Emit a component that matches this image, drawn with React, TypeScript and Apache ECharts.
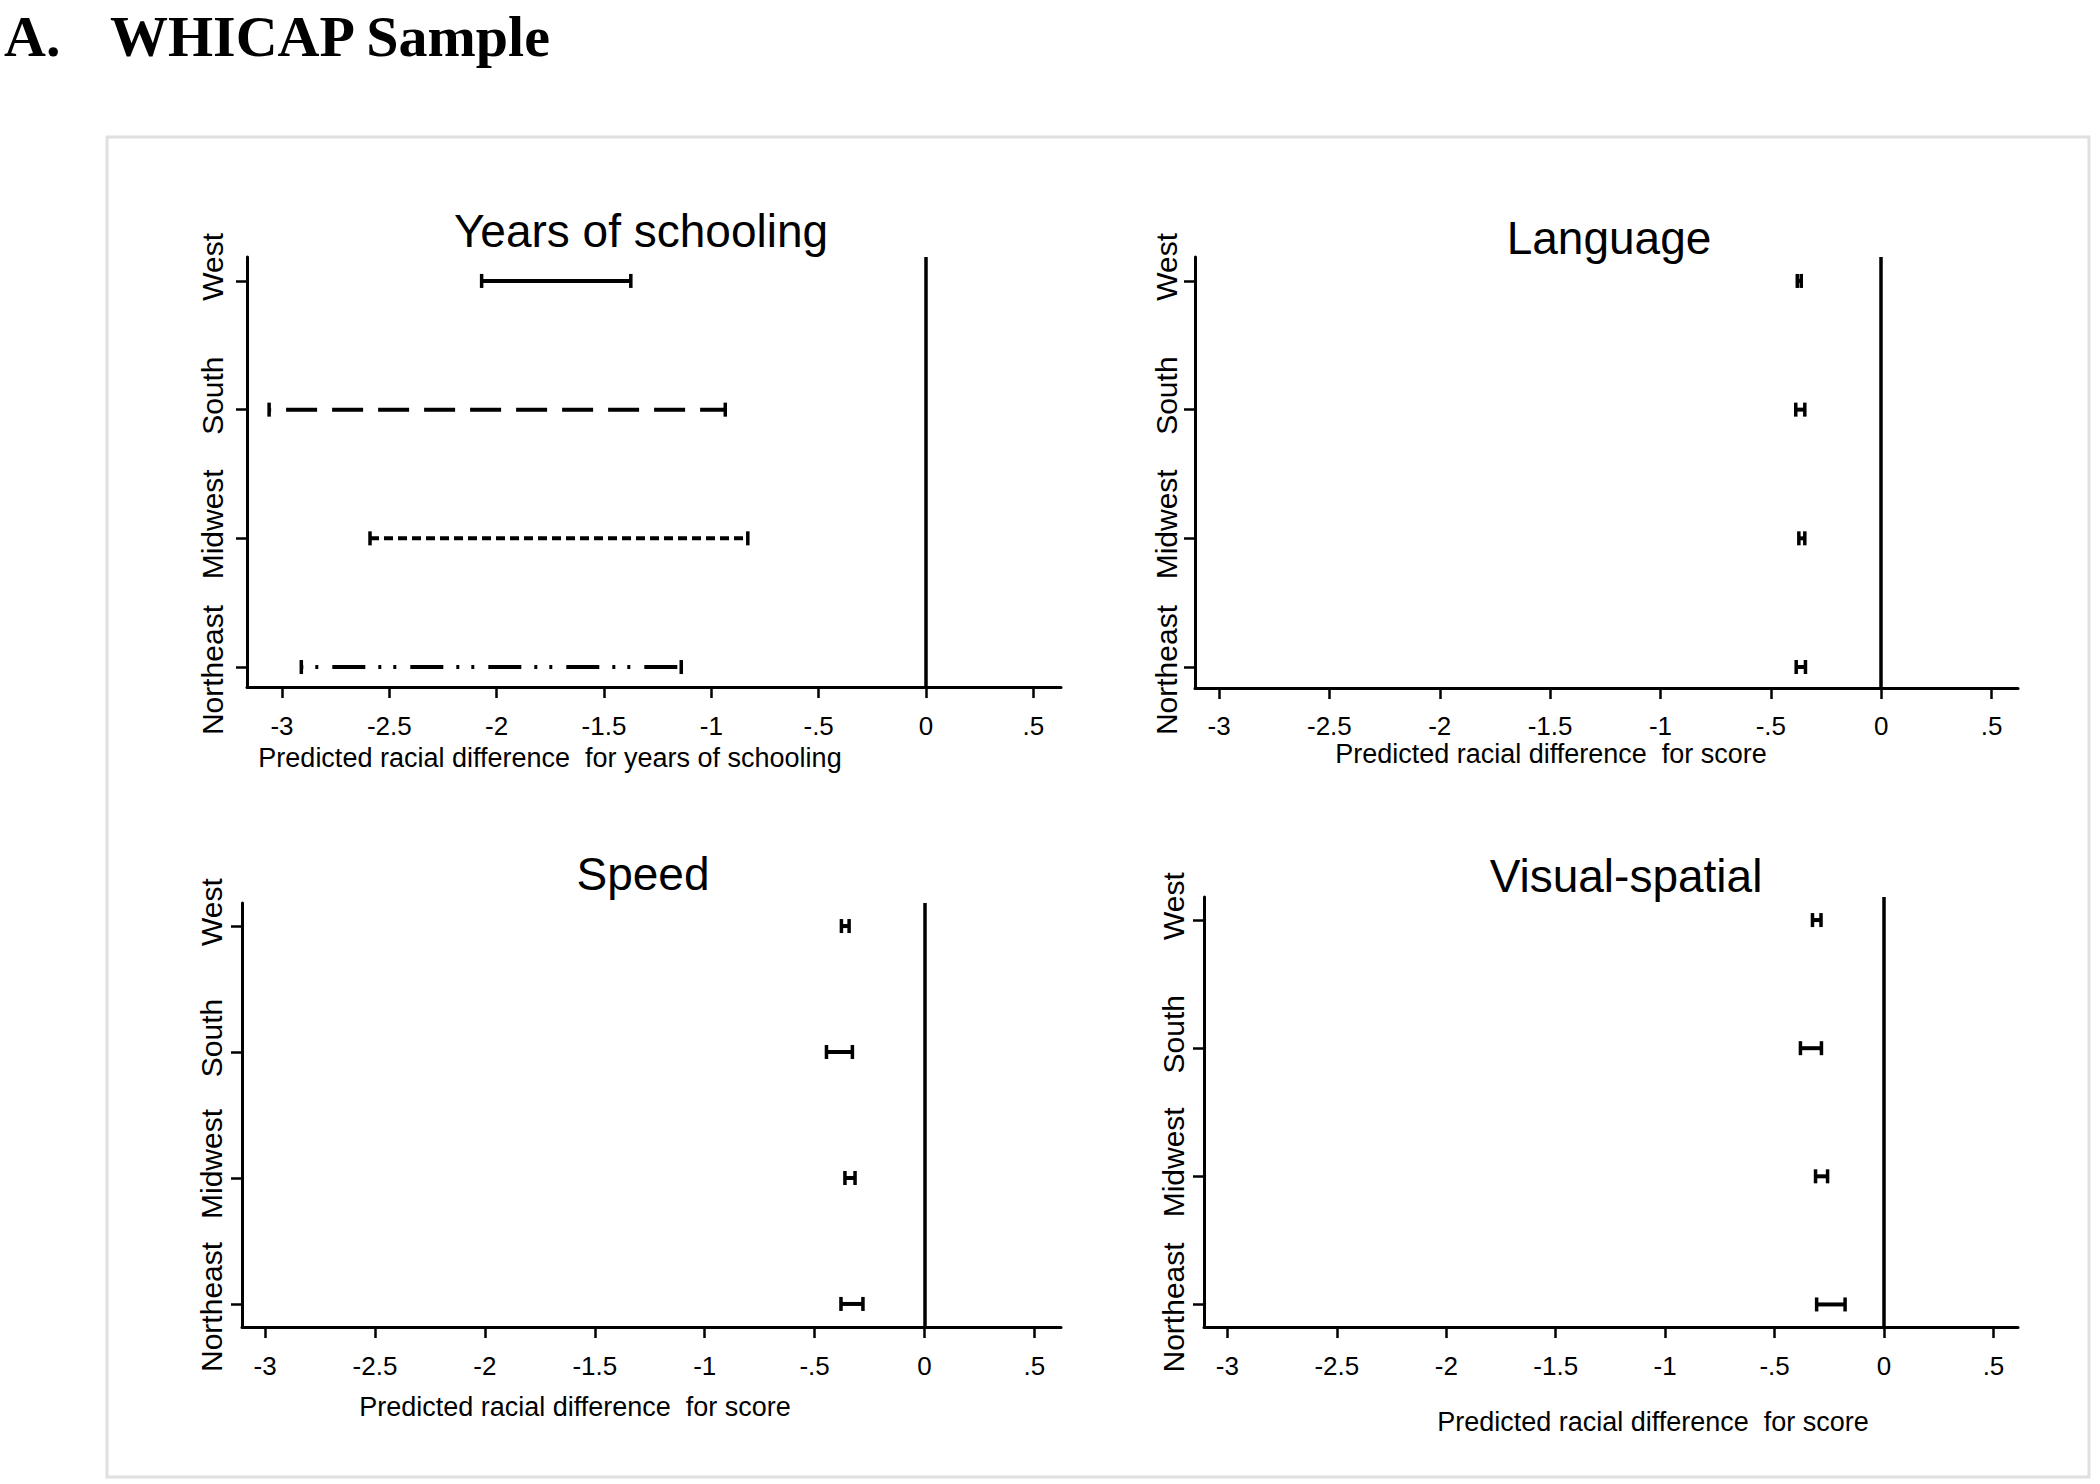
import React, { useEffect, useRef } from "react";
import * as echarts from "echarts";

// ---------- data ----------
const regions = ["West", "South", "Midwest", "Northeast"];
const regionPos = [4, 3, 2, 1];

const xTickValues = [-3, -2.5, -2, -1.5, -1, -0.5, 0, 0.5];
const xTickLabels = ["-3", "-2.5", "-2", "-1.5", "-1", "-.5", "0", ".5"];

const panelTitles = ["Years of schooling", "Language", "Speed", "Visual-spatial"];
const axisTitles = [
  "Predicted racial difference  for years of schooling",
  "Predicted racial difference  for score",
  "Predicted racial difference  for score",
  "Predicted racial difference  for score",
];

// lower / upper bounds, order: West, South, Midwest, Northeast
const schoolingLow = [-2.07, -3.06, -2.59, -2.91];
const schoolingHigh = [-1.375, -0.935, -0.83, -1.14];
const languageLow = [-0.38, -0.387, -0.373, -0.385];
const languageHigh = [-0.362, -0.346, -0.346, -0.343];
const speedLow = [-0.378, -0.446, -0.362, -0.38];
const speedHigh = [-0.343, -0.328, -0.316, -0.28];
const visualLow = [-0.327, -0.382, -0.313, -0.308];
const visualHigh = [-0.288, -0.286, -0.258, -0.178];

const schoolingStyles = ["solid", "longdash", "shortdash", "dashdotdot"];

const lows = [schoolingLow, languageLow, speedLow, visualLow];
const highs = [schoolingHigh, languageHigh, speedHigh, visualHigh];

// ---------- layout ----------
const FONT = "'Liberation Sans', Arial, Helvetica, sans-serif";
const SERIF = "'Liberation Serif', 'Times New Roman', serif";

const layout = [
  { left: 247, top: 257, width: 814, height: 430, xMin: -3.163, xMax: 0.629, yMin: 0.845, yMax: 4.186, lm: 26, ym: 20,
    title: [641, 231], name: [550, 758] },
  { left: 1195, top: 257, width: 823, height: 431, xMin: -3.109, xMax: 0.62, yMin: 0.837, yMax: 4.186, lm: 25, ym: 14,
    title: [1609, 238], name: [1551, 754] },
  { left: 242, top: 903, width: 819, height: 424, xMin: -3.105, xMax: 0.621, yMin: 0.817, yMax: 4.183, lm: 26, ym: 16,
    title: [643, 874], name: [575, 1407] },
  { left: 1204, top: 897, width: 814, height: 430, xMin: -3.107, xMax: 0.612, yMin: 0.824, yMax: 4.18, lm: 26, ym: 16,
    title: [1626, 876], name: [1653, 1422] },
];

const dashPatterns: Record<string, { dash: number[] | null; offset: number }> = {
  solid: { dash: null, offset: 0 },
  longdash: { dash: [31, 15], offset: 29 },
  shortdash: { dash: [9, 5], offset: 0 },
  dashdotdot: { dash: [33, 13, 3, 12, 3, 14], offset: 47 },
};

export default function App() {
  const ref = useRef<HTMLDivElement>(null);

  useEffect(() => {
    if (!ref.current) return;
    const chart = echarts.init(ref.current, null, { renderer: "svg" });

    const grids = layout.map((l) => ({
      left: l.left,
      top: l.top,
      width: l.width,
      height: l.height,
      containLabel: false,
    }));

    const xAxes = layout.map((l, i) => ({
      type: "value",
      gridIndex: i,
      min: l.xMin,
      max: l.xMax,
      axisLine: { show: true, onZero: false, lineStyle: { color: "#000", width: 3 } },
      axisTick: { show: true, length: 11, customValues: xTickValues, lineStyle: { color: "#000", width: 2.5 } },
      axisLabel: {
        show: true,
        customValues: xTickValues,
        margin: l.lm,
        color: "#000",
        fontFamily: FONT,
        fontSize: 26,
        formatter: (v: number) => {
          const k = xTickValues.findIndex((t) => Math.abs(t - v) < 1e-6);
          return k >= 0 ? xTickLabels[k] : "";
        },
      },
      splitLine: { show: false },
    }));

    const yAxes = layout.map((l, i) => ({
      type: "value",
      gridIndex: i,
      min: l.yMin,
      max: l.yMax,
      axisLine: { show: true, onZero: false, lineStyle: { color: "#000", width: 3 } },
      axisTick: { show: true, length: 11, customValues: regionPos, lineStyle: { color: "#000", width: 2.5 } },
      axisLabel: {
        show: true,
        customValues: regionPos,
        rotate: 90,
        margin: l.ym,
        color: "#000",
        fontFamily: FONT,
        fontSize: 30,
        formatter: (v: number) => {
          const k = regionPos.indexOf(Math.round(v));
          if (k < 0) return "";
          return k === 3 ? `{d|${regions[k]}}` : `{u|${regions[k]}}`;
        },
        rich: {
          u: { fontFamily: FONT, fontSize: 30, color: "#000", padding: [0, 0, 0, 28] },
          d: { fontFamily: FONT, fontSize: 30, color: "#000", padding: [0, 6, 0, 0] },
        },
      },
      splitLine: { show: false },
    }));

    const series = layout.map((l, i) => ({
      type: "custom",
      xAxisIndex: i,
      yAxisIndex: i,
      clip: false,
      encode: { x: [1, 2], y: 0 },
      data: regions.map((_, k) => [regionPos[k], lows[i][k], highs[i][k]]),
      renderItem: (params: any, api: any) => {
        const y = api.value(0);
        const lo = api.value(1);
        const hi = api.value(2);
        const p1 = api.coord([lo, y]);
        const p2 = api.coord([hi, y]);
        const h = 7;
        const styleName = i === 0 ? schoolingStyles[params.dataIndex] : "solid";
        const pat = dashPatterns[styleName];
        const mainStyle: any = { stroke: "#000", lineWidth: 4, fill: null };
        if (pat.dash) {
          mainStyle.lineDash = pat.dash;
          mainStyle.lineDashOffset = pat.offset;
        }
        return {
          type: "group",
          children: [
            { type: "line", shape: { x1: p1[0], y1: p1[1], x2: p2[0], y2: p2[1] }, style: mainStyle },
            { type: "line", shape: { x1: p1[0], y1: p1[1] - h, x2: p1[0], y2: p1[1] + h }, style: { stroke: "#000", lineWidth: 3.5 } },
            { type: "line", shape: { x1: p2[0], y1: p2[1] - h, x2: p2[0], y2: p2[1] + h }, style: { stroke: "#000", lineWidth: 3.5 } },
          ],
        };
      },
      markLine: {
        silent: true,
        symbol: "none",
        label: { show: false },
        lineStyle: { color: "#000", width: 3.5, type: "solid" },
        data: [{ xAxis: 0 }],
      },
      z: 3,
    }));

    const graphics: any[] = [
      {
        type: "rect",
        shape: { x: 107, y: 137, width: 1982, height: 1340 },
        style: { fill: "#fff", stroke: "#e0e0e0", lineWidth: 3 },
        z: -10,
      },
      {
        type: "text",
        x: 4,
        y: 36,
        style: { text: "A.", font: `bold 58px ${SERIF}`, fill: "#000", textAlign: "left", textVerticalAlign: "middle" },
      },
      {
        type: "text",
        x: 110,
        y: 36,
        style: { text: "WHICAP Sample", font: `bold 58px ${SERIF}`, fill: "#000", textAlign: "left", textVerticalAlign: "middle" },
      },
    ];
    layout.forEach((l, i) => {
      graphics.push({
        type: "text",
        x: l.title[0],
        y: l.title[1],
        style: { text: panelTitles[i], font: `46px ${FONT}`, fill: "#000", textAlign: "center", textVerticalAlign: "middle" },
      });
      graphics.push({
        type: "text",
        x: l.name[0],
        y: l.name[1],
        style: { text: axisTitles[i], font: `27px ${FONT}`, fill: "#000", textAlign: "center", textVerticalAlign: "middle" },
      });
    });

    chart.setOption({
      animation: false,
      backgroundColor: "#fff",
      grid: grids,
      xAxis: xAxes,
      yAxis: yAxes,
      series,
      graphic: graphics,
    });

    return () => chart.dispose();
  }, []);

  return (
    <div
      ref={ref}
      style={{ position: "absolute", left: 0, top: 0, width: 2100, height: 1484, background: "#fff" }}
    />
  );
}
